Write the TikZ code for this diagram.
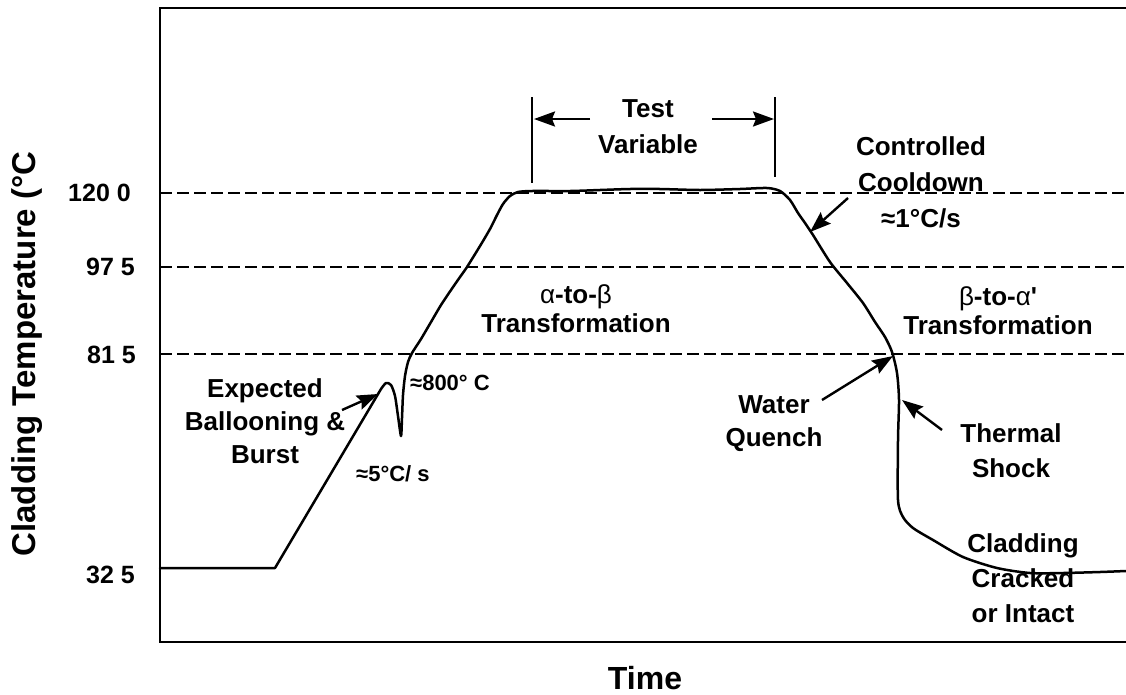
\documentclass[tikz,border=0pt]{standalone}
\usepackage{fontspec}
\setmainfont{Liberation Sans}
\usetikzlibrary{arrows.meta}

\begin{document}
\begin{tikzpicture}[x=1pt,y=-1pt,
  lbl/.style={font=\bfseries\fontsize{26}{34}\selectfont, align=center, inner sep=0pt},
  tick/.style={font=\bfseries\fontsize{25}{28}\selectfont, anchor=east, inner sep=0pt},
  note/.style={font=\bfseries\fontsize{22}{24}\selectfont, anchor=west, inner sep=0pt},
  ptr/.style={line width=2.4pt, -{Stealth[length=21pt,width=15pt,inset=3pt]}},
  guide/.style={line width=1.8pt, dash pattern=on 12pt off 5pt},
  frame/.style={line width=2pt},
  curve/.style={line width=2.5pt, line join=round, line cap=round},
  bar/.style={line width=1.6pt}]

\useasboundingbox (0,0) rectangle (1126,694);

% plot frame (open on the right)
\coordinate (tl) at (160,8);
\coordinate (tr) at (1126,8);
\coordinate (bl) at (160,642);
\coordinate (br) at (1126,642);
\draw[frame] (tr) -- (tl) -- (bl) -- (br);

% temperature levels
\foreach \name/\yy in {hi/193, mid/267, lo/354}{
  \coordinate (\name L) at (160,\yy);
  \coordinate (\name R) at (1126,\yy);
  \draw[guide] (\name L) -- (\name R);
}

% tick labels
\node[tick] (t1200) at (131,193) {120 0};
\node[tick] (t975)  at (135,267) {97 5};
\node[tick] (t815)  at (136,355) {81 5};
\node[tick] (t325)  at (135,575) {32 5};

% axis titles
\node[font=\bfseries\fontsize{33}{38}\selectfont, rotate=90, inner sep=0pt] (ylab) at (27,354) {Cladding Temperature (°C};
\node[font=\bfseries\fontsize{32}{36}\selectfont, inner sep=0pt] (xlab) at (645,678) {Time};

% temperature history
\draw[curve] (160,568) -- (275,568) -- (381,389)
  -- plot[smooth, tension=0.45] coordinates {
    (381,389) (386,383) (391,385) (395,396) (398,416) (401,436)
    (402,418) (403,395) (405,376) (408,362) (412,353) (421,339)
    (431,322) (441,305) (451,290) (460,277) (467,267) (480,246)
    (490,229) (497,215) (503,204) (510,196) (518,192) (532,191)
    (570,191) (600,190) (630,189) (660,189) (700,190) (740,189)
    (767,188) (780,191) (790,200) (798,213) (805,223) (813,235)
    (830,262) (847,283) (863,303) (875,322) (885,337) (892,352)
    (897,373) (899,400) (898,440) (898,500) (903,517) (913,528)
    (933,540) (963,557) (997,568) (1030,573) (1063,573) (1100,572)
    (1126,571)};

% test variable span
\coordinate (vlT) at (532,97);
\coordinate (vlB) at (532,183);
\coordinate (vrT) at (775,97);
\coordinate (vrB) at (775,177);
\draw[bar] (vlT) -- (vlB);
\draw[bar] (vrT) -- (vrB);
\node[lbl] (tv) at (648,127) {Test\\[2pt]Variable};
\coordinate (tvL) at (590,119);
\coordinate (tvLh) at (534,119);
\coordinate (tvR) at (712,119);
\coordinate (tvRh) at (774,119);
\draw[ptr] (tvL) -- (tvLh);
\draw[ptr] (tvR) -- (tvRh);

% annotations
\node[lbl, font=\bfseries\fontsize{26}{33}\selectfont] (burst) at (265,421) {Expected\\Ballooning \&\\Burst};
\coordinate (burstT) at (342,410);
\coordinate (burstH) at (378,394);
\draw[ptr] (burstT) -- (burstH);

\node[note] (r800) at (410,383) {≈800° C};
\node[note] (r5) at (356,474) {≈5°C/ s};

\node[lbl, font=\bfseries\fontsize{26}{29}\selectfont] (ab) at (576,309) {{\mdseries α}-to-{\mdseries β}\\Transformation};
\node[lbl, font=\bfseries\fontsize{26}{29}\selectfont] (ba) at (998,311) {{\mdseries β}-to-{\mdseries α}\textquotesingle\\Transformation};

\node[lbl, font=\bfseries\fontsize{26}{36}\selectfont] (cool) at (921,182) {Controlled\\Cooldown\\≈1°C/s};
\coordinate (coolT) at (848,198);
\coordinate (coolH) at (810,232);
\draw[ptr] (coolT) -- (coolH);

\node[lbl, font=\bfseries\fontsize{26}{33}\selectfont] (wq) at (774,424) {Water\\Quench};
\coordinate (wqT) at (822,400);
\coordinate (wqH) at (893,356);
\draw[ptr] (wqT) -- (wqH);

\node[lbl, font=\bfseries\fontsize{26}{35}\selectfont] (ts) at (1011,451) {Thermal\\Shock};
\coordinate (tsT) at (942,430);
\coordinate (tsH) at (902,400);
\draw[ptr] (tsT) -- (tsH);

\node[lbl, font=\bfseries\fontsize{26}{35}\selectfont] (cc) at (1023,578) {Cladding\\Cracked\\or Intact};

\end{tikzpicture}
\end{document}
